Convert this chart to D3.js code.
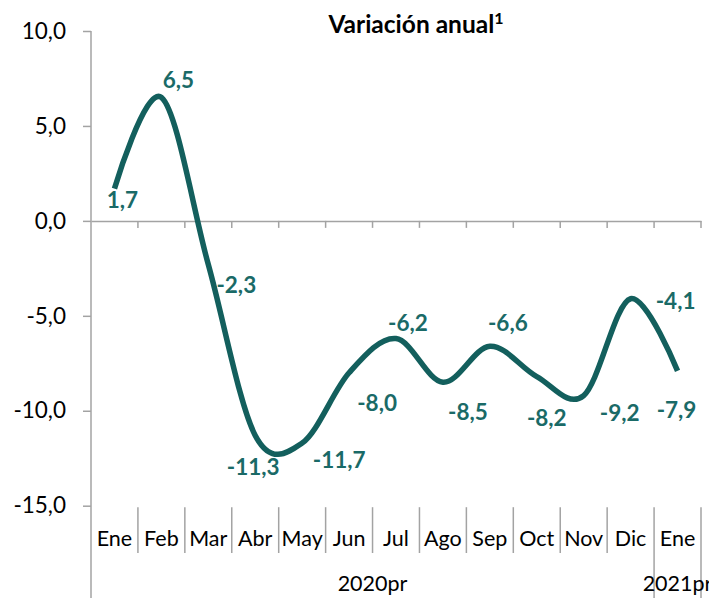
<!DOCTYPE html>
<html>
<head>
<meta charset="utf-8">
<script src="https://cdn.jsdelivr.net/npm/d3@7"></script>
<style>
  html, body { margin: 0; padding: 0; background: #fff; }
  svg { display: block; }
  text { font-family: Lato, "Open Sans", sans-serif; }
</style>
</head>
<body>
<svg id="chart" width="709" height="598"></svg>
<script>
// ---- data ----
const months = ["Ene","Feb","Mar","Abr","May","Jun","Jul","Ago","Sep","Oct","Nov","Dic","Ene"];
const values = [1.7, 6.5, -2.3, -11.3, -11.7, -8.0, -6.2, -8.5, -6.6, -8.2, -9.2, -4.1, -7.9];
const years = ["2020pr", "2021pr"];
const yearSpans = [[0, 11], [12, 12]];
const yTicks = [-15, -10, -5, 0, 5, 10];
const title = "Variación anual";
const titleNote = "1";
// label offsets (layout only) relative to each point
const labelOffsets = [[8,11],[17,-18],[28,20],[-2,31],[37,17],[28,30],[12,-16],[25,30],[18,-23],[10,41],[36,17],[45,2],[-1,39]];

// ---- layout ----
const mLeft = 91, mRight = 701, mTop = 31, bottomY = 505.7;
const lineColor = "#135f5d", labelColor = "#1a6a67", axisColor = "#a3a3a3";

const svg = d3.select("#chart");

const x = d3.scaleBand().domain(d3.range(months.length)).range([mLeft, mRight]).paddingInner(0).paddingOuter(0);
const y = d3.scaleLinear().domain([-15, 10]).range([bottomY, mTop]);
const bw = x.bandwidth();
const cx = i => x(i) + bw / 2;
const fmt = v => v.toFixed(1).replace(".", ",");

// Y axis
const yAxis = d3.axisLeft(y).tickValues(yTicks).tickFormat(fmt).tickSize(8).tickPadding(17);
const gy = svg.append("g").attr("transform", `translate(${mLeft},0)`).call(yAxis);
gy.select(".domain").remove();
gy.selectAll(".tick line").attr("stroke", axisColor).attr("stroke-width", 1.5);
gy.selectAll(".tick text").attr("font-size", 22.5).attr("fill", "#000").attr("font-family", "Lato, sans-serif");
svg.append("line").attr("x1", mLeft).attr("x2", mLeft).attr("y1", mTop).attr("y2", 598)
  .attr("stroke", axisColor).attr("stroke-width", 1.5);

// X axis at zero with tick marks at category boundaries
const xAxis = d3.axisBottom(x).tickValues([]).tickSizeOuter(0);
const gx = svg.append("g").attr("transform", `translate(0,${y(0)})`).call(xAxis);
gx.select(".domain").attr("stroke", axisColor).attr("stroke-width", 1.5);
const boundaries = d3.range(1, months.length + 1).map(i => mLeft + i * bw);
gx.selectAll("line.bt").data(boundaries).join("line").attr("class", "bt")
  .attr("x1", d => d).attr("x2", d => d).attr("y1", 0).attr("y2", 7)
  .attr("stroke", axisColor).attr("stroke-width", 1.5);

// Category label area
const catTop = bottomY + 1.5;
svg.append("g").selectAll("line").data(boundaries).join("line")
  .attr("x1", d => d).attr("x2", d => d)
  .attr("y1", catTop)
  .attr("y2", (d, i) => (i >= 11 ? 598 : 553))
  .attr("stroke", axisColor).attr("stroke-width", 1.5);

svg.append("g").selectAll("text").data(months).join("text")
  .attr("x", (d, i) => cx(i)).attr("y", 546)
  .attr("text-anchor", "middle").attr("font-size", 21.5).attr("fill", "#000")
  .text(d => d);

svg.append("g").selectAll("text").data(years).join("text")
  .attr("x", (d, i) => (x(yearSpans[i][0]) + x(yearSpans[i][1]) + bw) / 2)
  .attr("y", 591)
  .attr("text-anchor", "middle").attr("font-size", 21.5).attr("fill", "#000")
  .text(d => d);

// Line
const line = d3.line().x((d, i) => cx(i)).y(d => y(d)).curve(d3.curveCardinal.tension(0));
svg.append("path").datum(values).attr("d", line)
  .attr("fill", "none").attr("stroke", lineColor).attr("stroke-width", 5.5)
  .attr("stroke-linejoin", "round");

// Data labels
svg.append("g").selectAll("text").data(values).join("text")
  .attr("x", (d, i) => cx(i) + labelOffsets[i][0])
  .attr("y", (d, i) => y(d) + labelOffsets[i][1])
  .attr("dy", "0.36em")
  .attr("text-anchor", "middle").attr("font-size", 22.5).attr("font-weight", 700)
  .attr("fill", labelColor)
  .text(d => fmt(d));

// Title
const t = svg.append("text").attr("x", 416).attr("y", 33).attr("text-anchor", "middle")
  .attr("font-size", 24.5).attr("font-weight", 700).attr("fill", "#000");
t.append("tspan").text(title);
t.append("tspan").attr("font-size", 16).attr("dy", -9).text(titleNote);
</script>
</body>
</html>
